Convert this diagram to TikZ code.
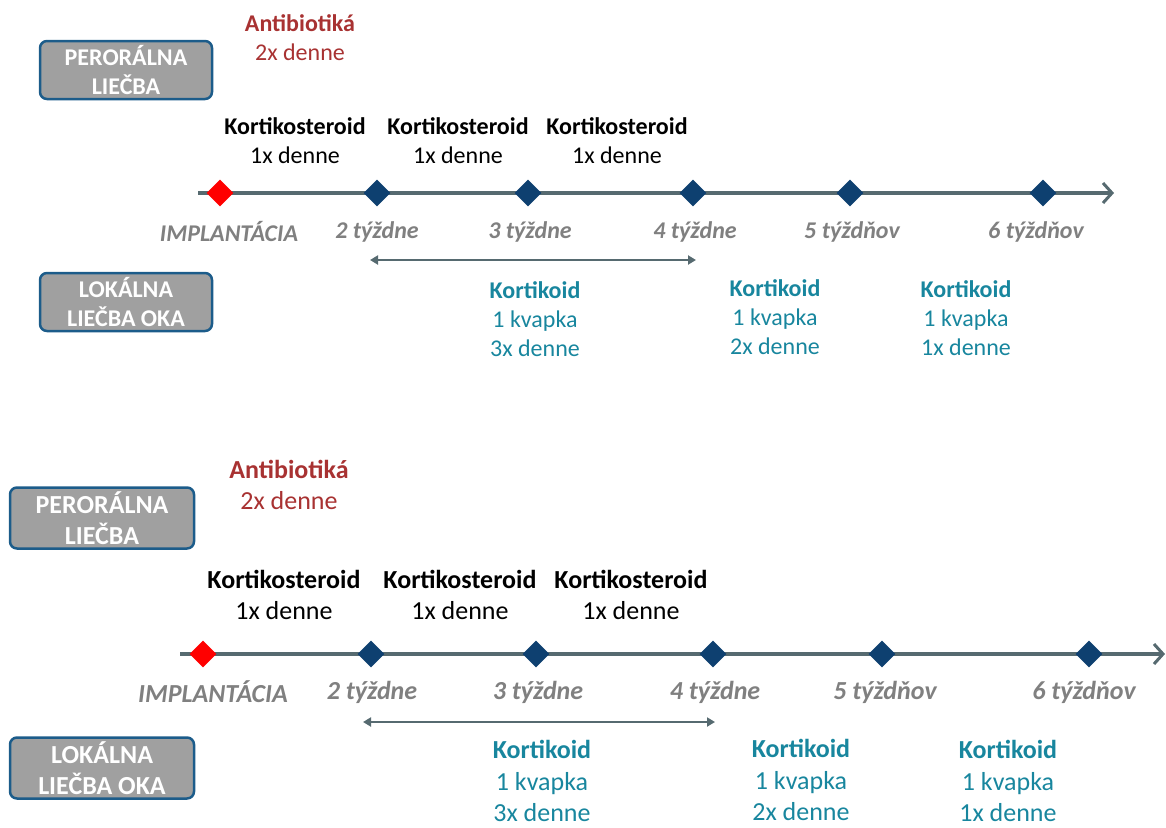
\documentclass[tikz,border=0pt]{standalone}
\usepackage{fontspec}
\setmainfont{Carlito}
\usetikzlibrary{shapes.geometric}
\usetikzlibrary{arrows.meta}
\definecolor{axisgray}{RGB}{86,106,112}
\definecolor{weekblue}{RGB}{14,64,112}
\definecolor{boxfill}{RGB}{160,160,160}
\definecolor{boxline}{RGB}{28,92,138}
\definecolor{antired}{RGB}{168,50,50}
\definecolor{kortteal}{RGB}{24,134,158}
\definecolor{weekgray}{RGB}{128,128,128}
\tikzset{
  therapy/.style={rounded corners=7pt, fill=boxfill, draw=boxline, line width=2.5pt,
    text=white, font=\bfseries, align=center, inner sep=0pt},
  milestone/.style={diamond, fill=weekblue, minimum size=27pt, inner sep=0pt},
  implant/.style={milestone, fill=red},
  weeklabel/.style={text=weekgray, font=\bfseries\itshape},
  antibio/.style={text=antired, align=center},
  steroid/.style={align=center},
  kortikoid/.style={text=kortteal, align=center, inner sep=0pt},
  timeline/.style={draw=axisgray, line width=3.5pt, -{Straight Barb[length=9pt,width=20pt,line width=3pt]}},
  span/.style={draw=axisgray, line width=2pt, {Triangle[length=8pt,width=9pt]}-{Triangle[length=8pt,width=9pt]}}
}

\begin{document}
\begin{tikzpicture}[x=1pt, y=-1pt]
	\useasboundingbox (0,0) rectangle (1166,827);

	% ---------- top panel ----------
	\begin{scope}
	\fontsize{24}{29}\selectfont
	\node[therapy, minimum width=172pt, minimum height=58pt] (perA) at (126,70) {PERORÁLNA\\LIEČBA};
	\node[therapy, minimum width=172pt, minimum height=58pt] (lokA) at (126,302) {LOKÁLNA\\LIEČBA OKA};

	% oral
	\node[antibio] (antiA) at (300,38) {\textbf{Antibiotiká}\\2x denne};
	\node[steroid] (kstA1) at (295,141) {\textbf{Kortikosteroid}\\1x denne};
	\node[steroid] (kstA2) at (458,141) {\textbf{Kortikosteroid}\\1x denne};
	\node[steroid] (kstA3) at (617,141) {\textbf{Kortikosteroid}\\1x denne};

	% axis
	\coordinate (startA) at (198,193);
	\coordinate (endA) at (1114,193);
	\draw[timeline] (startA) -- (endA);
	\node[implant] (tA0) at (220,193) {};
	\node[milestone] (tA2) at (377,193) {};
	\node[milestone] (tA3) at (528,193) {};
	\node[milestone] (tA4) at (693,193) {};
	\node[milestone] (tA5) at (850,193) {};
	\node[milestone] (tA6) at (1043,193) {};
	\node[weeklabel] (wA0) at (229,232) {IMPLANTÁCIA};
	\node[weeklabel] (wA2) at (377,232) {2 týždne};
	\node[weeklabel] (wA3) at (530,232) {3 týždne};
	\node[weeklabel] (wA4) at (695,232) {4 týždne};
	\node[weeklabel] (wA5) at (852,232) {5 týždňov};
	\node[weeklabel] (wA6) at (1036,232) {6 týždňov};

	% local
	\coordinate (spanA1) at (370,260);
	\coordinate (spanA2) at (696,260);
	\draw[span] (spanA1) -- (spanA2);
	\node[kortikoid] (korA1) at (535,319) {\textbf{Kortikoid}\\1 kvapka\\3x denne};
	\node[kortikoid] (korA2) at (775,317) {\textbf{Kortikoid}\\1 kvapka\\2x denne};
	\node[kortikoid] (korA3) at (966,318) {\textbf{Kortikoid}\\1 kvapka\\1x denne};
	\end{scope}

	% ---------- bottom panel ----------
	\begin{scope}
	\fontsize{26}{31.5}\selectfont
	\node[therapy, minimum width=184pt, minimum height=61pt] (perB) at (102,518) {PERORÁLNA\\LIEČBA};
	\node[therapy, minimum width=184pt, minimum height=61pt] (lokB) at (102,768) {LOKÁLNA\\LIEČBA OKA};

	% oral
	\node[antibio] (antiB) at (289,485) {\textbf{Antibiotiká}\\2x denne};
	\node[steroid] (kstB1) at (284,595) {\textbf{Kortikosteroid}\\1x denne};
	\node[steroid] (kstB2) at (460,595) {\textbf{Kortikosteroid}\\1x denne};
	\node[steroid] (kstB3) at (631,595) {\textbf{Kortikosteroid}\\1x denne};

	% axis
	\coordinate (startB) at (180,654);
	\coordinate (endB) at (1165,654);
	\draw[timeline] (startB) -- (endB);
	\node[implant] (tB0) at (203,654) {};
	\node[milestone] (tB2) at (371,654) {};
	\node[milestone] (tB3) at (536,654) {};
	\node[milestone] (tB4) at (713,654) {};
	\node[milestone] (tB5) at (882,654) {};
	\node[milestone] (tB6) at (1089,654) {};
	\node[weeklabel] (wB0) at (213,692) {IMPLANTÁCIA};
	\node[weeklabel] (wB2) at (372,692) {2 týždne};
	\node[weeklabel] (wB3) at (538,692) {3 týždne};
	\node[weeklabel] (wB4) at (715,692) {4 týždne};
	\node[weeklabel] (wB5) at (885,692) {5 týždňov};
	\node[weeklabel] (wB6) at (1084,692) {6 týždňov};

	% local
	\coordinate (spanB1) at (363,722);
	\coordinate (spanB2) at (715,722);
	\draw[span] (spanB1) -- (spanB2);
	\node[kortikoid] (korB1) at (542,781) {\textbf{Kortikoid}\\1 kvapka\\3x denne};
	\node[kortikoid] (korB2) at (801,780) {\textbf{Kortikoid}\\1 kvapka\\2x denne};
	\node[kortikoid] (korB3) at (1008,781) {\textbf{Kortikoid}\\1 kvapka\\1x denne};
	\end{scope}

\end{tikzpicture}
\end{document}
